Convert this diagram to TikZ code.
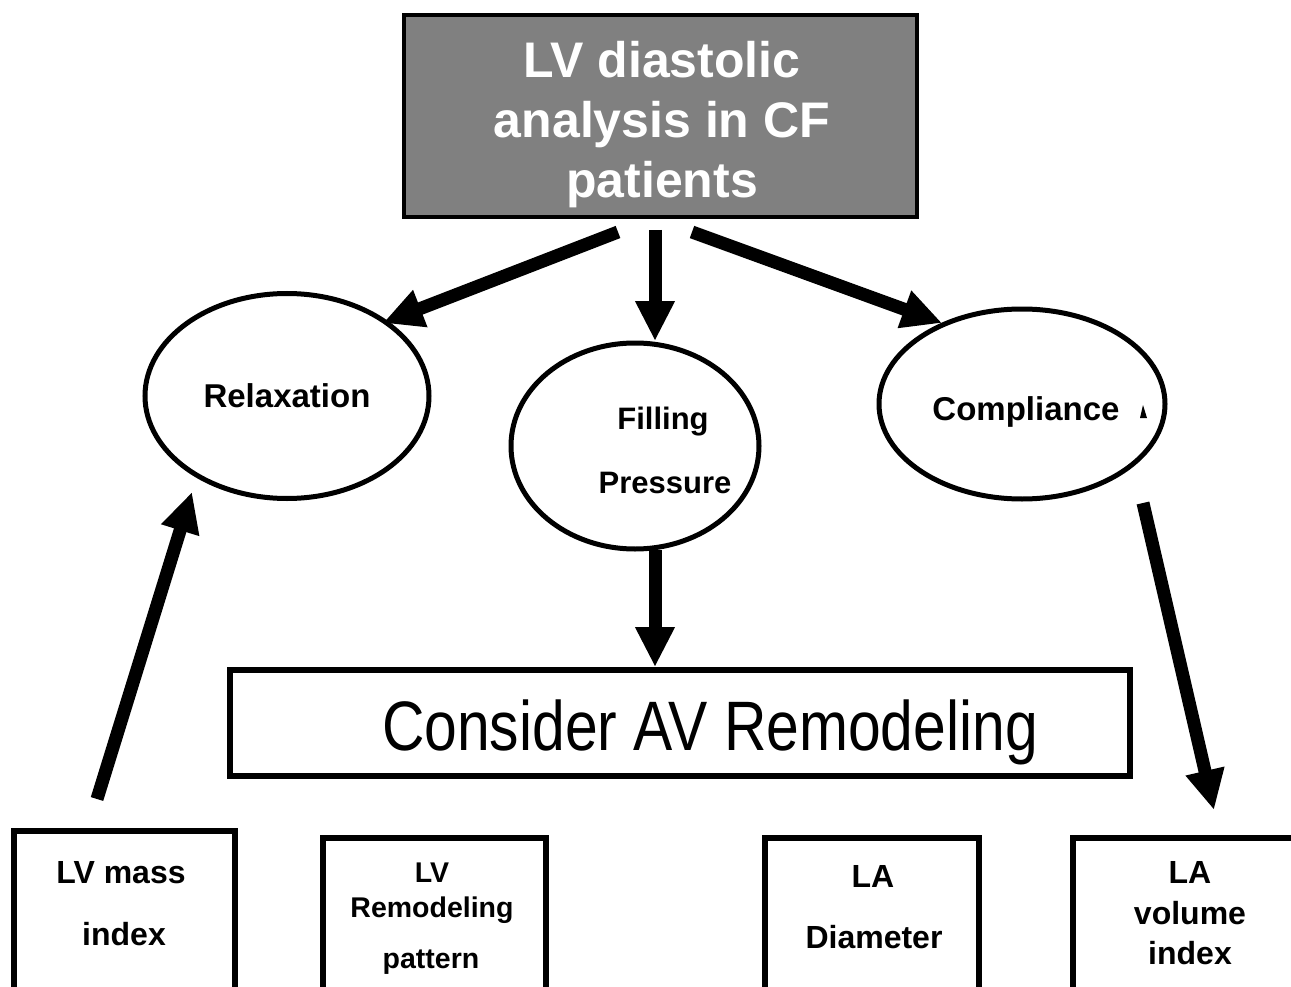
\documentclass[tikz,border=0pt]{standalone}
\usepackage{fontspec}
\setmainfont{Liberation Sans}
\newfontfamily\condfont[FakeStretch=0.84]{Liberation Sans}
\usetikzlibrary{shapes.geometric,arrows.meta}
\definecolor{boxgray}{RGB}{128,128,128}
\begin{document}
\begin{tikzpicture}[x=1pt,y=-1pt,
  bigarrow/.style={line width=13pt,-{Triangle[width=37pt,length=40pt]}},
  ell/.style={draw,ellipse,line width=5pt,inner sep=0pt},
  boxthick/.style={draw,line width=6pt,inner sep=0pt},
  lbl/.style={font=\fontsize{33}{38}\selectfont\bfseries,align=center,inner sep=0pt},
  smalllbl/.style={font=\fontsize{28.5}{33}\selectfont\bfseries,align=center,inner sep=0pt}]
\useasboundingbox (0,0) rectangle (1291,987);
\clip (0,0) rectangle (1291,987);
\fill[white] (0,0) rectangle (1291,987);

% top box
\node[draw,line width=4.5pt,fill=boxgray,minimum width=513pt,minimum height=202pt,inner sep=0pt] (top) at (660.5,116) {};
\node[font=\fontsize{50}{60}\selectfont\bfseries,text=white,align=center,inner sep=0pt] (toptxt) at (662,125) {LV diastolic\\analysis in CF\\patients};

% ellipses
\node[ell,minimum width=284pt,minimum height=205pt] (relax) at (287,396) {};
\node[ell,minimum width=248pt,minimum height=206pt] (fill) at (635,446) {};
\node[ell,minimum width=286pt,minimum height=190pt] (comp) at (1022,404) {};
\node[lbl] (relaxtxt) at (287,396) {Relaxation};
\node[lbl,font=\fontsize{31}{36}\selectfont\bfseries] (filltxt1) at (663,422) {Filling};
\node[lbl,font=\fontsize{31}{36}\selectfont\bfseries] (filltxt2) at (665,483) {Pressure};
\node[lbl] (comptxt) at (1026,412) {Compliance};
\fill (1143,405) -- (1140,418) -- (1147,418) -- cycle;

% consider box
\node[boxthick,minimum width=900pt,minimum height=106pt] (consider) at (680,723) {};
\node[font=\fontsize{70}{80}\selectfont\condfont,inner sep=0pt] (considertxt) at (710,732) {Consider AV Remodeling};

% bottom boxes
\node[boxthick,minimum width=221pt,minimum height=240pt] (lvmass) at (124.5,951) {};
\node[boxthick,minimum width=223pt,minimum height=240pt] (lvrem) at (434.5,958) {};
\node[boxthick,minimum width=214pt,minimum height=240pt] (ladia) at (872,958) {};
\node[boxthick,minimum width=240pt,minimum height=240pt] (lavol) at (1193,958) {};
\node[lbl,font=\fontsize{32}{37}\selectfont\bfseries] (lvmasst1) at (121,873) {LV mass};
\node[lbl,font=\fontsize{32}{37}\selectfont\bfseries] (lvmasst2) at (124,934) {index};
\node[smalllbl] (lvremt1) at (432,873) {LV};
\node[smalllbl] (lvremt2) at (432,910) {Remodeling};
\node[smalllbl] (lvremt3) at (431,962) {pattern};
\node[lbl,font=\fontsize{32}{37}\selectfont\bfseries] (ladiat1) at (873,876) {LA};
\node[lbl,font=\fontsize{32}{37}\selectfont\bfseries] (ladiat2) at (874,937) {Diameter};
\node[lbl,font=\fontsize{32}{37}\selectfont\bfseries] (lavolt1) at (1190,872) {LA};
\node[lbl,font=\fontsize{32}{37}\selectfont\bfseries] (lavolt2) at (1190,913) {volume};
\node[lbl,font=\fontsize{32}{37}\selectfont\bfseries] (lavolt3) at (1190,953) {index};

% arrow end points
\coordinate (a1s) at (618,232);
\coordinate (a1e) at (383,323);
\coordinate (a2s) at (655,230);
\coordinate (a2e) at (655,341);
\coordinate (a3s) at (692,232);
\coordinate (a3e) at (942,323);
\coordinate (a4s) at (655,550);
\coordinate (a4e) at (655,667);
\coordinate (a5s) at (97,799);
\coordinate (a5e) at (192,492);
\coordinate (a6s) at (1143,503);
\coordinate (a6e) at (1214,810);

\draw[bigarrow] (a1s) -- (a1e);
\draw[bigarrow] (a2s) -- (a2e);
\draw[bigarrow] (a3s) -- (a3e);
\draw[bigarrow] (a4s) -- (a4e);
\draw[bigarrow] (a5s) -- (a5e);
\draw[bigarrow] (a6s) -- (a6e);
\end{tikzpicture}
\end{document}
